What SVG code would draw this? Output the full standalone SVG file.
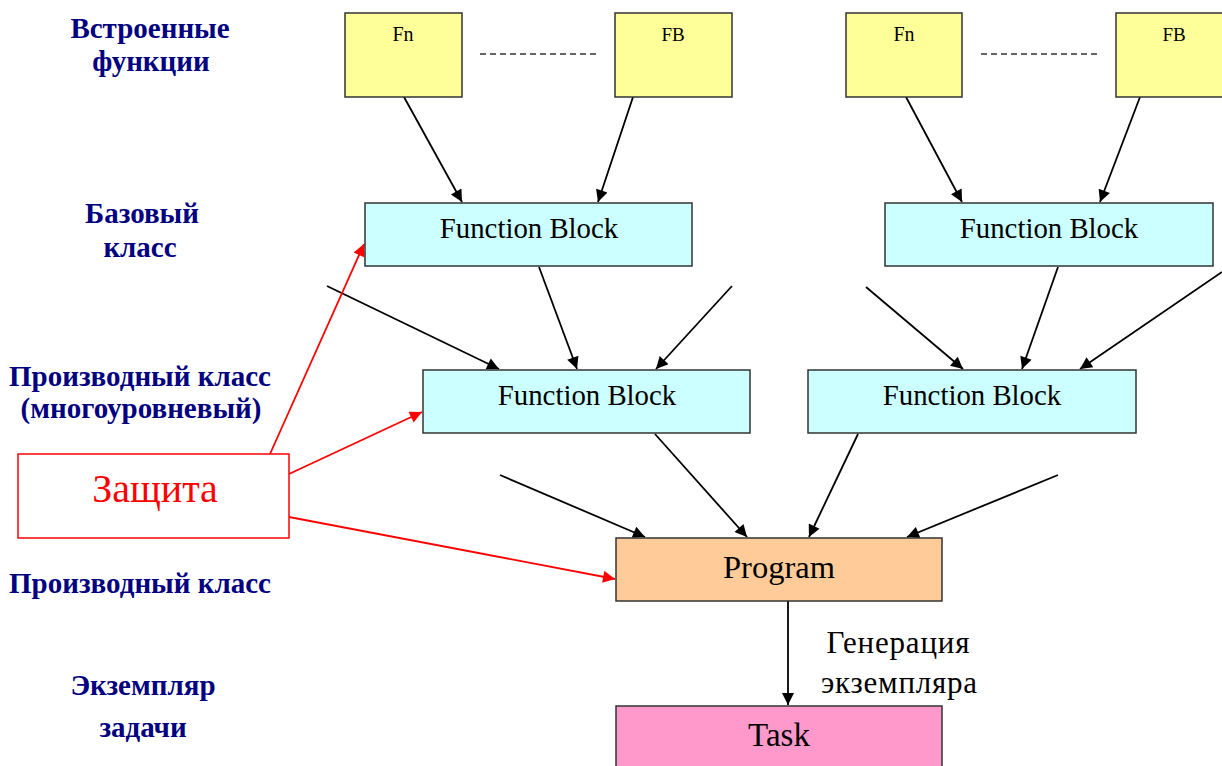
<svg xmlns="http://www.w3.org/2000/svg" width="1222" height="766" viewBox="0 0 1222 766">
  <style>
    .box { stroke: #333; stroke-width: 1.5; }
    .fn { fill: #FFFF99; }
    .fb { fill: #CCFFFF; }
    .prog { fill: #FFCC99; }
    .task { fill: #FF99CC; }
    .t { font-family: "Liberation Serif", "Times New Roman", serif; fill: #000; text-anchor: middle; }
    .lbl { font-family: "Liberation Serif", "Times New Roman", serif; font-weight: bold; fill: #000080; font-size: 29px; text-anchor: middle; }
    .edge { stroke: #000; stroke-width: 1.8; fill: none; marker-end: url(#ah); }
    .red { stroke: #FF0000; stroke-width: 1.8; fill: none; marker-end: url(#ahr); }
    .dash { stroke: #333; stroke-width: 1.5; stroke-dasharray: 6 4; }
  </style>
  <defs>
    <marker id="ah" viewBox="0 0 10 10" refX="10" refY="5" markerWidth="14" markerHeight="12" markerUnits="userSpaceOnUse" orient="auto">
      <path d="M0,0 L10,5 L0,10 z" fill="#000"/>
    </marker>
    <marker id="ahr" viewBox="0 0 10 10" refX="10" refY="5" markerWidth="14" markerHeight="12" markerUnits="userSpaceOnUse" orient="auto">
      <path d="M0,0 L10,5 L0,10 z" fill="#FF0000"/>
    </marker>
  </defs>
  <rect width="1222" height="766" fill="#fff"/>

  <!-- level labels -->
  <g id="labels">
    <text class="lbl" x="150" y="38">Встроенные</text>
    <text class="lbl" x="151" y="71">функции</text>
    <text class="lbl" x="142" y="223">Базовый</text>
    <text class="lbl" x="140" y="257">класс</text>
    <text class="lbl" x="140" y="386">Производный класс</text>
    <text class="lbl" x="141" y="418">(многоуровневый)</text>
    <text class="lbl" x="140" y="593">Производный класс</text>
    <text class="lbl" x="143" y="695">Экземпляр</text>
    <text class="lbl" x="143" y="737">задачи</text>
  </g>

  <!-- connectors -->
  <g id="connectors">
    <line class="dash" x1="480" y1="54" x2="596" y2="54"/>
    <line class="dash" x1="981" y1="54" x2="1097" y2="54"/>

    <line class="edge" x1="404" y1="97" x2="462" y2="202"/>
    <line class="edge" x1="633" y1="97" x2="598" y2="202"/>
    <line class="edge" x1="906" y1="97" x2="962" y2="202"/>
    <line class="edge" x1="1140" y1="97" x2="1100" y2="202"/>

    <line class="edge" x1="539" y1="267" x2="577" y2="369"/>
    <line class="edge" x1="327" y1="286" x2="499" y2="369"/>
    <line class="edge" x1="732" y1="286" x2="656" y2="369"/>

    <line class="edge" x1="866" y1="287" x2="963" y2="369"/>
    <line class="edge" x1="1058" y1="267" x2="1022" y2="369"/>
    <line class="edge" x1="1222" y1="272" x2="1080" y2="369"/>

    <line class="edge" x1="655" y1="434" x2="747" y2="537"/>
    <line class="edge" x1="500" y1="475" x2="645" y2="537"/>
    <line class="edge" x1="858" y1="434" x2="809" y2="537"/>
    <line class="edge" x1="1058" y1="475" x2="907" y2="537"/>

    <line class="edge" x1="788" y1="601" x2="788" y2="705"/>

    <line class="red" x1="270" y1="454" x2="364" y2="244"/>
    <line class="red" x1="289" y1="474" x2="422" y2="412"/>
    <line class="red" x1="289" y1="517" x2="615" y2="579"/>
  </g>

  <!-- built-in functions -->
  <g id="fn1">
    <rect class="box fn" x="345" y="13" width="117" height="84"/>
    <text class="t" x="403" y="41" font-size="20">Fn</text>
  </g>
  <g id="fb1">
    <rect class="box fn" x="615" y="13" width="117" height="84"/>
    <text class="t" x="673" y="41" font-size="19">FB</text>
  </g>
  <g id="fn2">
    <rect class="box fn" x="846" y="13" width="116" height="84"/>
    <text class="t" x="904" y="41" font-size="20">Fn</text>
  </g>
  <g id="fb2">
    <rect class="box fn" x="1116" y="13" width="117" height="84"/>
    <text class="t" x="1174" y="41" font-size="19">FB</text>
  </g>

  <!-- base classes -->
  <g id="base-left">
    <rect class="box fb" x="365" y="203" width="327" height="63"/>
    <text class="t" x="529" y="238" font-size="28.8">Function Block</text>
  </g>
  <g id="base-right">
    <rect class="box fb" x="885" y="203" width="328" height="63"/>
    <text class="t" x="1049" y="238" font-size="28.8">Function Block</text>
  </g>

  <!-- derived classes -->
  <g id="derived-left">
    <rect class="box fb" x="423" y="370" width="327" height="63"/>
    <text class="t" x="587" y="405" font-size="28.8">Function Block</text>
  </g>
  <g id="derived-right">
    <rect class="box fb" x="808" y="370" width="328" height="63"/>
    <text class="t" x="972" y="405" font-size="28.8">Function Block</text>
  </g>

  <!-- program -->
  <g id="program">
    <rect class="box prog" x="616" y="538" width="326" height="63"/>
    <text class="t" x="779" y="578" font-size="32.5">Program</text>
  </g>

  <!-- task instance -->
  <g id="task">
    <rect class="box task" x="616" y="706" width="326" height="70"/>
    <text class="t" x="779" y="746" font-size="33">Task</text>
  </g>

  <g id="gen-label">
    <text class="t" x="898" y="653" font-size="31" textLength="143" lengthAdjust="spacing">Генерация</text>
    <text class="t" x="899" y="693" font-size="31" textLength="156" lengthAdjust="spacing">экземпляра</text>
  </g>

  <!-- protection -->
  <g id="protection">
    <rect x="18" y="454" width="271" height="84" fill="#fff" stroke="#FF0000" stroke-width="1.5"/>
    <text class="t" x="155" y="502" font-size="40" style="fill:#FF0000">Защита</text>
  </g>
</svg>
